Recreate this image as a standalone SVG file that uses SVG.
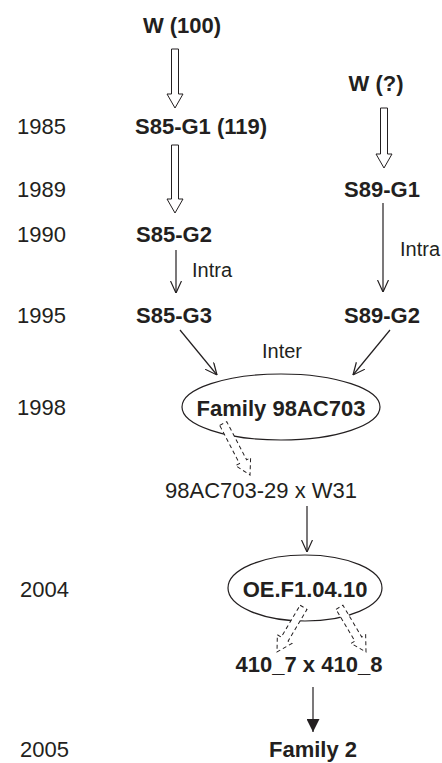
<svg xmlns="http://www.w3.org/2000/svg" width="442" height="763" viewBox="0 0 442 763">
<defs>
<style>
text{font-family:"Liberation Sans",Arial,sans-serif;fill:#231f20}
.b{font-weight:bold;font-size:22px}
.r{font-size:22px}
.s{font-size:20px}
.yr{font-size:22px}
.hol{fill:#fff;stroke:#231f20;stroke-width:1}
.dash{fill:#fff;stroke:#231f20;stroke-width:1;stroke-dasharray:4,3}
.ln{stroke:#231f20;stroke-width:1.2;fill:none}
.ell{fill:#fff;stroke:#231f20;stroke-width:1.2}
</style>
<marker id="open" viewBox="0 0 12 12" refX="12" refY="6" markerWidth="12" markerHeight="12" markerUnits="userSpaceOnUse" orient="auto">
<path d="M0,0.5 L12,6 L0,11.5" fill="none" stroke="#231f20" stroke-width="1.2"/>
</marker>
<marker id="solid" viewBox="0 0 13 13" refX="13" refY="6.5" markerWidth="13" markerHeight="13" markerUnits="userSpaceOnUse" orient="auto">
<path d="M0,0 L13,6.5 L0,13 Z" fill="#231f20"/>
</marker>
</defs>
<rect width="442" height="763" fill="#fff"/>

<g id="years">
<text class="yr" x="17" y="134">1985</text>
<text class="yr" x="17" y="197">1989</text>
<text class="yr" x="17" y="242">1990</text>
<text class="yr" x="17" y="323">1995</text>
<text class="yr" x="17" y="415">1998</text>
<text class="yr" x="20" y="597">2004</text>
<text class="yr" x="20" y="757">2005</text>
</g>

<g id="n_w100"><text class="b" x="182" y="33" text-anchor="middle">W (100)</text></g>
<g id="n_wq"><text class="b" x="376" y="91" text-anchor="middle">W (?)</text></g>
<g id="n_s85g1"><text class="b" x="135" y="134">S85-G1 (119)</text></g>
<g id="n_s89g1"><text class="b" x="382" y="197" text-anchor="middle">S89-G1</text></g>
<g id="n_s85g2"><text class="b" x="174" y="242" text-anchor="middle">S85-G2</text></g>
<g id="n_s85g3"><text class="b" x="174" y="323" text-anchor="middle">S85-G3</text></g>
<g id="n_s89g2"><text class="b" x="382" y="323" text-anchor="middle">S89-G2</text></g>
<g id="n_fam98">
<ellipse class="ell" cx="281" cy="407" rx="99" ry="33"/>
<text class="b" x="281" y="416" text-anchor="middle">Family 98AC703</text>
</g>
<g id="n_cross"><text class="r" x="261" y="498" text-anchor="middle">98AC703-29 x W31</text></g>
<g id="n_oe">
<ellipse class="ell" cx="305" cy="588" rx="77" ry="33"/>
<text class="b" x="305" y="597" text-anchor="middle">OE.F1.04.10</text>
</g>
<g id="n_410"><text class="b" x="309" y="672" text-anchor="middle">410_7 x 410_8</text></g>
<g id="n_fam2"><text class="b" x="313" y="757" text-anchor="middle">Family 2</text></g>

<g id="connectors">
<g transform="translate(175,108)"><path class="hol" d="M-3.5,-59 L3.5,-59 L3.5,-14 L8,-14 L0,0 L-8,-14 L-3.5,-14 Z"/></g>
<g transform="translate(175,213)"><path class="hol" d="M-3.5,-68 L3.5,-68 L3.5,-14 L8,-14 L0,0 L-8,-14 L-3.5,-14 Z"/></g>
<g transform="translate(384,168)"><path class="hol" d="M-3.5,-60 L3.5,-60 L3.5,-14 L8,-14 L0,0 L-8,-14 L-3.5,-14 Z"/></g>
<line class="ln" x1="176" y1="250" x2="176" y2="293" marker-end="url(#open)"/>
<line class="ln" x1="383" y1="203" x2="383" y2="292" marker-end="url(#open)"/>
<line class="ln" x1="180" y1="330" x2="217" y2="375" marker-end="url(#open)"/>
<line class="ln" x1="390" y1="330" x2="353" y2="375" marker-end="url(#open)"/>
<g transform="translate(250,475) rotate(-27.5)"><path class="dash" d="M-4,-58 L4,-58 L4,-15 L8.5,-15 L0,0 L-8.5,-15 L-4,-15 Z"/></g>
<line class="ln" x1="307" y1="506" x2="307" y2="552" marker-end="url(#open)"/>
<g transform="translate(277,652) rotate(30.7)"><path class="dash" d="M-4,-52 L4,-52 L4,-15 L8.5,-15 L0,0 L-8.5,-15 L-4,-15 Z"/></g>
<g transform="translate(366,652) rotate(-30.7)"><path class="dash" d="M-4,-52 L4,-52 L4,-15 L8.5,-15 L0,0 L-8.5,-15 L-4,-15 Z"/></g>
<line class="ln" x1="313" y1="687" x2="313" y2="732" marker-end="url(#solid)"/>
<text class="s" x="192" y="277">Intra</text>
<text class="s" x="400" y="256">Intra</text>
<text class="s" x="282" y="358" text-anchor="middle">Inter</text>
</g>
</svg>
